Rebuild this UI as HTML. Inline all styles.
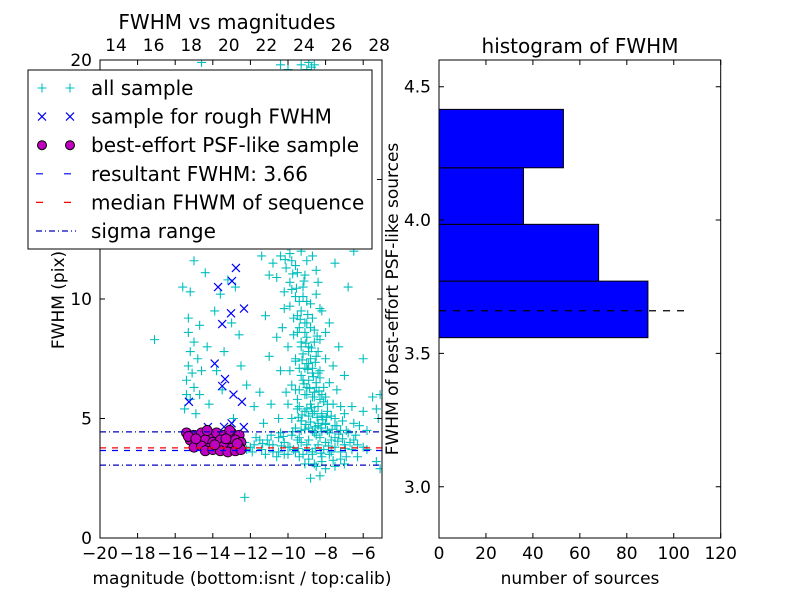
<!DOCTYPE html>
<html><head><meta charset="utf-8"><style>
html,body{margin:0;padding:0;background:#fff;}
svg text{font-family:"DejaVu Sans","Liberation Sans",sans-serif;}
</style></head><body>
<svg id="chart" width="800" height="600" xmlns="http://www.w3.org/2000/svg">
<rect width="800" height="600" fill="#fff"/>
<g id="left"></g><g id="right"></g>
</svg>
<script>
// ---- data: left scatter ----
const allSample = [[-15.0,11.6],[-14.4,11.1],[-15.2,10.3],[-15.3,9.2],[-14.7,8.9],[-15.3,8.6],[-15.0,8.2],[-15.2,7.8],[-14.8,7.5],[-15.3,7.2],[-15.1,6.9],[-15.4,6.6],[-15.0,6.3],[-14.7,6.0],[-15.2,5.8],[-15.5,5.4],[-14.9,5.2],[-15.4,6.0],[-14.6,7.0],[-14.3,8.0],[-13.9,9.5],[-13.6,10.2],[-13.2,10.8],[-12.8,10.5],[-13.0,9.0],[-12.6,8.5],[-13.4,7.8],[-12.5,7.2],[-13.8,7.0],[-12.2,6.4],[-13.5,6.2],[-14.2,5.6],[-11.8,5.5],[-12.9,5.0],[-17.1,8.3],[-15.6,10.5],[-14.0,12.8],[-15.2,12.4],[-14.8,14.0],[-12.5,13.5],
[-11.4,11.8],[-10.8,11.5],[-11.2,9.3],[-10.6,8.4],[-11.0,7.6],[-10.4,7.0],[-11.5,6.1],[-10.9,5.6],[-10.5,5.0],[-11.3,4.8],[-12.0,13.0],[-11.6,14.5],
[-9.8,15.5],[-9.5,16.2],[-9.2,15.0],[-8.8,14.6],[-9.6,14.0],[-9.0,13.4],[-8.5,13.0],[-9.9,12.6],[-9.3,12.2],[-8.7,11.8],[-9.6,11.4],[-9.1,11.0],[-8.4,10.7],[-9.8,10.4],[-9.2,10.1],[-8.8,9.8],[-8.2,9.5],[-9.5,9.3],[-9.0,9.0],[-8.6,8.7],[-9.7,8.5],[-9.3,8.2],[-8.9,8.0],[-8.4,7.8],[-8.0,7.5],[-9.6,7.4],[-9.1,7.1],[-8.7,6.9],[-8.3,6.7],[-7.8,6.5],[-9.8,6.4],[-9.4,6.2],[-9.0,6.0],[-8.6,5.9],[-8.1,5.7],[-7.6,5.6],[-10.0,5.6],[-9.5,5.4],[-9.1,5.3],[-8.7,5.2],[-8.2,5.1],[-7.5,5.0],[-7.0,5.2],[-6.5,4.8],[-6.0,5.3],[-5.5,5.9],[-5.2,5.0],[-10.2,9.6],[-10.0,8.0],[-7.8,9.0],[-7.3,8.0],[-7.0,6.8],[-6.8,10.5],[-7.5,11.5],[-8.0,12.5],[-10.3,13.5],[-9.4,17.0],[-8.6,16.5],[-10.5,16.0],[-7.8,14.5],[-6.5,12.0],[-6.0,7.5],[-8.8,18.5],[-9.3,19.8],[-8.9,19.9],[-8.6,19.8],[-10.4,19.8],[-14.6,19.9],
[-8.9,7.3],[-8.5,6.3],[-8.8,5.6],[-9.2,6.6],[-8.3,8.3],[-8.7,9.2],[-9.4,8.8],[-8.5,10.2],[-9.0,11.6],[-8.2,6.0],[-7.9,5.3],[-9.3,4.9],[-8.0,4.8],[-8.6,4.4],[-7.2,4.5],
[-11.0,3.9],[-10.5,4.2],[-10.0,3.8],[-9.5,4.1],[-9.0,3.9],[-8.5,4.3],[-8.0,4.0],[-7.5,4.2],[-7.0,3.9],[-6.5,4.1],[-6.0,3.8],[-10.8,3.6],[-10.2,3.5],[-9.7,3.7],[-9.2,3.5],[-8.7,3.6],[-8.2,3.4],[-7.7,3.6],[-7.2,3.3],[-8.9,4.6],[-8.4,4.7],[-9.3,4.5],[-7.9,4.5],[-7.4,4.7],[-6.8,4.4],[-8.6,3.1],[-8.0,2.9],[-7.5,3.0],[-8.8,2.5],[-8.3,2.6],[-6.3,3.4],[-5.8,3.7],[-5.3,3.2],[-5.1,2.9],[-12.3,1.7],[-11.8,3.9],[-11.5,4.1],[-12.2,3.7],[-5.1,6.0],[-5.3,5.4]];
const plumeSample = [[-10.1,16.4],[-9.8,16.0],[-10.3,15.7],[-9.6,15.3],[-10.0,15.0],[-10.4,14.6],[-9.7,14.3],[-10.1,14.0],[-9.4,13.8],[-10.5,13.4],[-9.9,13.2],[-10.2,12.9],[-9.6,12.7],[-10.7,12.4],[-10.0,12.2],[-9.3,12.0],[-10.4,11.8],[-9.8,11.6],[-10.1,11.3],[-9.5,11.1],[-10.6,10.9],[-9.9,10.7],[-9.2,10.5],[-10.2,10.3],[-9.6,10.1],[-9.0,9.9],[-9.9,9.7],[-9.3,9.5],[-9.7,9.2],[-9.1,9.0],[-8.8,8.8],[-9.5,8.6],[-9.0,8.4],[-8.6,8.2],[-9.3,8.0],[-8.9,7.8],[-8.5,7.6],[-9.6,7.5],[-9.0,7.3],[-8.7,7.1],[-8.3,7.0],[-9.3,6.8],[-8.9,6.6],[-8.5,6.5],[-8.1,6.3],[-9.6,6.2],[-9.1,6.0],[-8.7,5.9],[-8.3,5.8],[-7.9,5.6],[-9.4,5.5],[-9.0,5.4],[-8.6,5.3],[-8.2,5.2],[-7.7,5.1],[-9.8,5.0],[-9.3,4.9],[-8.8,4.85],[-8.4,4.8],[-8.0,4.75],[-7.5,4.7],[-7.1,4.9],[-9.6,4.6],[-9.1,4.55],[-8.7,4.5],[-8.2,4.45],[-7.8,4.4],[-7.3,4.35],[-6.9,4.5],[-6.4,4.3],
[-12.3,4.0],[-12.0,3.8],[-11.7,4.2],[-11.4,3.7],[-11.1,4.1],[-10.8,3.9],[-10.5,3.6],[-10.2,4.0],[-9.9,3.8],[-9.6,3.6],[-9.3,4.0],[-9.0,3.7],[-8.7,3.5],[-8.4,3.9],[-8.1,3.7],[-7.8,3.5],[-7.5,3.8],[-7.2,3.6],[-6.9,3.4],[-6.6,3.7],[-6.3,3.9],[-10.9,4.3],[-10.4,4.4],[-9.8,4.3],[-9.4,4.2],[-8.9,4.1],[-8.3,4.2],[-7.7,4.1],[-7.1,4.15],[-6.7,4.0],[-11.9,3.6],[-11.2,3.5],[-10.6,3.4],[-10.0,3.5],[-9.4,3.4],[-8.9,3.3],[-8.2,3.2],[-7.6,3.25],[-7.0,3.1],[-9.1,3.1],[-8.5,3.0],
[-10.9,15.2],[-9.0,15.8],[-8.4,14.8],[-11.1,13.0],[-8.8,12.8],[-11.0,11.0],[-8.5,11.2],[-8.3,9.6],[-10.3,8.8],[-8.0,8.6],[-7.6,7.2],[-9.9,7.0],[-7.4,6.2],[-10.1,6.1],[-7.2,5.5],[-6.6,5.5],[-6.2,4.7],[-5.8,4.5],[-9.6,17.2],[-10.2,17.6],[-9.2,18.0],[-10.0,19.6],[-9.0,19.6],[-8.75,19.7],
[-9.2,7.7],[-8.8,7.5],[-9.4,7.1],[-8.4,6.9],[-9.0,6.3],[-8.6,6.1],[-8.4,5.5],[-8.9,5.1],[-9.5,5.8],[-8.0,5.9],[-9.1,8.6],[-9.4,9.9],[-9.9,11.9],[-10.3,12.6],[-9.7,13.6],[-10.3,14.2],
[-9.05,4.75],[-8.55,4.65],[-8.15,4.95],[-8.75,5.45],[-9.25,5.15],[-8.45,5.05],[-8.85,6.25],[-8.35,6.15],[-9.15,6.45],[-8.65,6.75],[-8.95,7.05],[-8.55,7.35],[-9.25,7.45],[-8.75,7.95],[-8.45,8.45],[-9.05,8.15],[-8.95,9.35],[-9.35,9.15],[-9.55,10.45],[-9.15,10.75],[-9.75,11.05],[-10.15,11.65],[-9.55,12.35],[-10.05,13.45],[-9.85,14.55],[-10.15,15.45],[-9.45,5.05],[-7.95,5.05],[-8.25,4.6],[-7.65,4.55],[-9.75,4.45],[-10.25,4.25],[-7.35,4.05],[-6.95,3.75],[-8.55,3.75],[-9.45,3.75],[-10.35,3.85],[-11.35,3.95],[-7.85,3.85],[-8.25,3.55]];
const roughSample = [[-12.77,11.3],[-12.98,10.75],[-13.72,10.5],[-13.03,9.4],[-12.34,9.6],[-13.5,8.95],[-13.9,7.3],[-13.35,6.65],[-13.5,6.36],[-12.9,6.0],[-12.45,5.7],[-15.27,5.7],[-14.26,4.64],[-13.0,4.8],[-13.4,4.65],[-12.35,4.64]];
const psfSample = [[-15.4,4.4],[-15.0,4.3],[-14.6,4.4],[-14.2,4.3],[-13.8,4.4],[-13.4,4.3],[-13.0,4.4],[-12.6,4.3],[-15.2,4.1],[-14.8,4.0],[-14.4,4.1],[-14.0,4.0],[-13.6,4.1],[-13.2,4.0],[-12.8,4.1],[-12.5,4.0],[-15.0,3.8],[-14.6,3.85],[-14.2,3.75],[-13.8,3.8],[-13.4,3.85],[-13.0,3.75],[-12.6,3.8],[-14.4,3.65],[-14.0,3.7],[-13.6,3.65],[-13.2,3.6],[-12.8,3.65],[-12.5,3.7],[-15.3,4.25],[-14.3,4.5],[-13.1,4.5],[-13.3,4.15],[-14.9,4.15],[-12.7,3.95],[-13.9,3.9]];
const resultantFWHM = 3.66;
const medianFWHM = 3.77;
const sigmaRange = [3.05, 4.44];
const xTicksBottom = [-20,-18,-16,-14,-12,-10,-8,-6];
const xTicksTop = [14,16,18,20,22,24,26,28];
const yTicksLeft = [0,5,10,15,20];
const topOffset = 33.15;
// ---- data: histogram ----
const binEdges = [3.559,3.771,3.984,4.196,4.415];
const binCounts = [89,68,36,53];
const histXTicks = [0,20,40,60,80,100,120];
const histYTicks = [3.0,3.5,4.0,4.5];

const NS='http://www.w3.org/2000/svg';
function mk(parent,tag,attrs,name,text){const e=document.createElementNS(NS,tag);for(const k in attrs)e.setAttribute(k,attrs[k]);


if(text!==undefined)e.textContent=text;parent.appendChild(e);return e;}

// left axes
const L={x0:100,x1:382,y0:538,y1:60};
const lx=v=>L.x0+(v+20)/15*(L.x1-L.x0);
const ly=v=>L.y0-v/20*(L.y0-L.y1);
const gl=document.getElementById('left');
mk(gl,'rect',{x:L.x0,y:L.y1,width:L.x1-L.x0,height:L.y0-L.y1,fill:'#fff'},'left-plot-area');
const clipD=mk(gl,'clipPath',{id:'lc'},'left-clip');
mk(clipD,'rect',{x:L.x0,y:L.y1,width:L.x1-L.x0,height:L.y0-L.y1},'left-clip-rect');
const pts=mk(gl,'g',{'clip-path':'url(#lc)'},'left-series');
function plus(g,cx,cy,c,s,name){mk(g,'path',{d:`M${cx-s},${cy}h${2*s}M${cx},${cy-s}v${2*s}`,stroke:c,'stroke-width':1.1,fill:'none'},name);}
function cross(g,cx,cy,c,s,name){mk(g,'path',{d:`M${cx-s},${cy-s}l${2*s},${2*s}M${cx-s},${cy+s}l${2*s},${-2*s}`,stroke:c,'stroke-width':1.2,fill:'none'},name);}
allSample.forEach(p=>plus(pts,lx(p[0]),ly(p[1]),'#00bfbf',4.5,'all-sample-point'));
plumeSample.forEach(p=>plus(pts,lx(p[0]),ly(p[1]),'#00bfbf',4.5,'all-sample-point'));
roughSample.forEach(p=>cross(pts,lx(p[0]),ly(p[1]),'#0000ff',4,'rough-sample-point'));
psfSample.forEach(p=>mk(pts,'circle',{cx:lx(p[0]),cy:ly(p[1]),r:5,fill:'#bf00bf',stroke:'#000','stroke-width':0.8},'psf-sample-point'));
function hline(v,c,dash,name){mk(pts,'line',{x1:L.x0,x2:L.x1,y1:ly(v),y2:ly(v),stroke:c,'stroke-width':1.2,'stroke-dasharray':dash},name);}
hline(resultantFWHM,'#0000ff','6,6','resultant-fwhm-line');
hline(medianFWHM,'#ff0000','6,6','median-fwhm-line');
sigmaRange.forEach(v=>hline(v,'#0000bf','6,3,1,3','sigma-range-line'));
mk(gl,'rect',{x:L.x0,y:L.y1,width:L.x1-L.x0,height:L.y0-L.y1,fill:'none',stroke:'#000','stroke-width':1},'left-frame');
xTicksBottom.forEach(v=>{const x=lx(v);
 mk(gl,'path',{d:`M${x},${L.y0}v-5M${x},${L.y1}v5`,stroke:'#000'},'x-tick');
 mk(gl,'text',{x:x,y:L.y0+21,'font-size':17,'text-anchor':'middle'},'x-tick-label',(v<0?'\u2212'+(-v):v));});
xTicksTop.forEach(v=>{const x=lx(v-topOffset);
 mk(gl,'text',{x:x,y:L.y1-9,'font-size':17,'text-anchor':'middle'},'top-tick-label',v);});
yTicksLeft.forEach(v=>{const y=ly(v);
 mk(gl,'path',{d:`M${L.x0},${y}h5M${L.x1},${y}h-5`,stroke:'#000'},'y-tick');
 mk(gl,'text',{x:L.x0-8,y:y+6,'font-size':17,'text-anchor':'end'},'y-tick-label',v);});
mk(gl,'text',{x:227,y:29,'font-size':20,'text-anchor':'middle'},'left-title','FWHM vs magnitudes');
mk(gl,'text',{x:242,y:584,'font-size':17,'text-anchor':'middle'},'left-x-axis-title','magnitude (bottom:isnt / top:calib)');
mk(gl,'text',{x:0,y:0,'font-size':17,'text-anchor':'middle',transform:'translate(64,300) rotate(-90)'},'left-y-axis-title','FWHM (pix)');
// legend
const lg=mk(gl,'g',{},'legend');
mk(lg,'rect',{x:28,y:70,width:344,height:179,fill:'#fff',stroke:'#000','stroke-width':1},'legend-box');
const items=['all sample','sample for rough FWHM','best-effort PSF-like sample','resultant FWHM: 3.66','median FHWM of sequence','sigma range'];
items.forEach((t,i)=>{const y=88+i*28.6;
 if(i==0){plus(lg,42,y,'#00bfbf',4.5,'legend-marker');plus(lg,70,y,'#00bfbf',4.5,'legend-marker');}
 if(i==1){cross(lg,42,y,'#0000ff',4,'legend-marker');cross(lg,70,y,'#0000ff',4,'legend-marker');}
 if(i==2){mk(lg,'circle',{cx:42,cy:y,r:4.5,fill:'#bf00bf',stroke:'#000'},'legend-marker');mk(lg,'circle',{cx:70,cy:y,r:4.5,fill:'#bf00bf',stroke:'#000'},'legend-marker');}
 if(i==3)mk(lg,'line',{x1:36,x2:76,y1:y,y2:y,stroke:'#0000ff','stroke-width':1.2,'stroke-dasharray':'7,21'},'legend-marker');
 if(i==4)mk(lg,'line',{x1:36,x2:76,y1:y,y2:y,stroke:'#ff0000','stroke-width':1.2,'stroke-dasharray':'7,21'},'legend-marker');
 if(i==5)mk(lg,'line',{x1:36,x2:76,y1:y,y2:y,stroke:'#0000bf','stroke-width':1.2,'stroke-dasharray':'6,3,1,3'},'legend-marker');
 mk(lg,'text',{x:91,y:y+7,'font-size':20},'legend-entry',t);});

// right histogram
const R={x0:439,x1:720.7,y0:538,y1:60};
const rx=v=>R.x0+v/120*(R.x1-R.x0);
const ry=v=>86.7-(v-4.5)*266.7;
const gr=document.getElementById('right');
binCounts.forEach((c,i)=>{const yt=ry(binEdges[i+1]),yb=ry(binEdges[i]);
 mk(gr,'rect',{x:rx(0),y:yt,width:rx(c)-rx(0),height:yb-yt,fill:'#0000ff',stroke:'#000','stroke-width':1},'histogram-bar');});
mk(gr,'line',{x1:rx(0),x2:rx(107),y1:ry(resultantFWHM),y2:ry(resultantFWHM),stroke:'#000','stroke-width':1.2,'stroke-dasharray':'7,7'},'histogram-fwhm-line');
mk(gr,'rect',{x:R.x0,y:R.y1,width:R.x1-R.x0,height:R.y0-R.y1,fill:'none',stroke:'#000'},'right-frame');
histXTicks.forEach(v=>{const x=rx(v);
 mk(gr,'path',{d:`M${x},${R.y0}v-5M${x},${R.y1}v5`,stroke:'#000'},'hist-x-tick');
 mk(gr,'text',{x:x,y:R.y0+21,'font-size':17,'text-anchor':'middle'},'hist-x-tick-label',v);});
histYTicks.forEach(v=>{const y=ry(v);
 mk(gr,'path',{d:`M${R.x0},${y}h5M${R.x1},${y}h-5`,stroke:'#000'},'hist-y-tick');
 mk(gr,'text',{x:R.x0-8,y:y+6,'font-size':17,'text-anchor':'end'},'hist-y-tick-label',v.toFixed(1));});
mk(gr,'text',{x:580,y:53,'font-size':20,'text-anchor':'middle'},'right-title','histogram of FWHM');
mk(gr,'text',{x:580,y:584,'font-size':17,'text-anchor':'middle'},'hist-x-axis-title','number of sources');
mk(gr,'text',{x:0,y:0,'font-size':17,'text-anchor':'middle',transform:'translate(398,299) rotate(-90)'},'hist-y-axis-title','FWHM of best-effort PSF-like sources');
</script>
</body></html>
